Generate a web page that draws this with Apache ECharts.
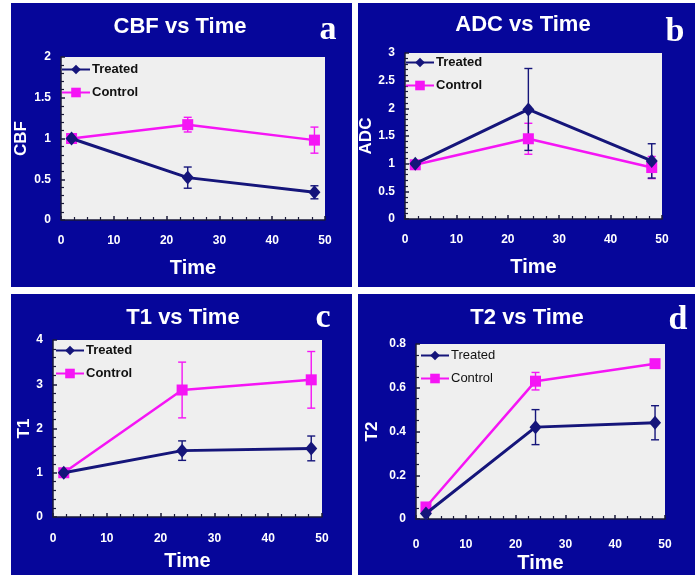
<!DOCTYPE html>
<html><head><meta charset="utf-8">
<script src="https://cdn.jsdelivr.net/npm/echarts@6/dist/echarts.min.js"></script>
<style>html,body{margin:0;padding:0;background:#fff}#c{width:699px;height:575px}</style>
</head><body><div id="c"></div>
<script>
// ---- data ----
const times = [2, 24, 48];
const xTicks = [0, 10, 20, 30, 40, 50];
const seriesNames = ['Treated', 'Control'];

const cbfTreated = [1.0, 0.52, 0.34];
const cbfTreatedErr = [0, 0.13, 0.08];
const cbfControl = [1.0, 1.17, 0.98];
const cbfControlErr = [0.04, 0.09, 0.16];

const adcTreated = [1.0, 1.98, 1.05];
const adcTreatedErr = [0, 0.74, 0.31];
const adcControl = [0.98, 1.45, 0.93];
const adcControlErr = [0.05, 0.28, 0.2];

const t1Treated = [1.0, 1.5, 1.55];
const t1TreatedErr = [0, 0.22, 0.28];
const t1Control = [1.0, 2.87, 3.1];
const t1ControlErr = [0, 0.63, 0.64];

const t2Treated = [0.025, 0.42, 0.44];
const t2TreatedErr = [0, 0.08, 0.078];
const t2Control = [0.055, 0.63, 0.71];
const t2ControlErr = [0, 0.04, 0.01];

const panelTitles = ['CBF vs Time', 'ADC vs Time', 'T1 vs Time', 'T2 vs Time'];
const panelLetters = ['a', 'b', 'c', 'd'];
const yNames = ['CBF', 'ADC', 'T1', 'T2'];
const yRanges = [[0, 2, 0.5, 5], [0, 3, 0.5, 5], [0, 4, 1, 5], [0, 0.8, 0.2, 4]];

// ---- layout ----
const BLUE = '#06069a';
const NAVY = '#15157a';
const MAG = '#f515f5';
const panels = [
  {x: 11, y: 3, w: 341, h: 284},
  {x: 358, y: 3, w: 337, h: 284},
  {x: 11, y: 294, w: 341, h: 281},
  {x: 358, y: 294, w: 337, h: 281}
];
const grids = [
  {left: 61, top: 57, width: 264, height: 163},
  {left: 405, top: 53, width: 257, height: 166},
  {left: 53, top: 340, width: 269, height: 177},
  {left: 416, top: 344, width: 249, height: 175}
];
const titlePos = [[180, 27], [523, 25], [183, 318], [527, 318]];
const letterPos = [[328, 30], [675, 32], [323, 318], [678, 320]];
const xLabelMargin = [15, 15, 16, 20];
const xNameGap = [38, 38, 34, 34];
const yNameGap = [31, 21, 19, 35];
const legendPos = [[61, 63], [405, 56], [55, 344], [420, 349]];
const legendBold = ['bold', 'bold', 'bold', 'normal'];

const panelData = [
  [cbfTreated, cbfTreatedErr, cbfControl, cbfControlErr],
  [adcTreated, adcTreatedErr, adcControl, adcControlErr],
  [t1Treated, t1TreatedErr, t1Control, t1ControlErr],
  [t2Treated, t2TreatedErr, t2Control, t2ControlErr]
];

function errRender(params, api) {
  const x = api.value(0), lo = api.value(1), hi = api.value(2);
  if (hi - lo <= 0) return null;
  const top = api.coord([x, hi]), bot = api.coord([x, lo]);
  const hw = 4;
  const style = {stroke: api.visual('color'), lineWidth: 1.4};
  return {type: 'group', children: [
    {type: 'line', shape: {x1: top[0], y1: top[1], x2: bot[0], y2: bot[1]}, style: style},
    {type: 'line', shape: {x1: top[0] - hw, y1: top[1], x2: top[0] + hw, y2: top[1]}, style: style},
    {type: 'line', shape: {x1: bot[0] - hw, y1: bot[1], x2: bot[0] + hw, y2: bot[1]}, style: style}
  ]};
}

const graphic = [];
panels.forEach((p, i) => {
  graphic.push({type: 'rect', shape: {x: p.x, y: p.y, width: p.w, height: p.h}, style: {fill: BLUE}, z: -10});
  graphic.push({type: 'text', x: titlePos[i][0], y: titlePos[i][1],
    style: {text: panelTitles[i], fill: '#fff', font: 'bold 22px "Liberation Sans", Arial, sans-serif',
      textAlign: 'center', textVerticalAlign: 'middle'}});
  graphic.push({type: 'text', x: letterPos[i][0], y: letterPos[i][1],
    style: {text: panelLetters[i], fill: '#fff', font: 'bold 34px "Liberation Serif", "Times New Roman", serif',
      textAlign: 'center', textVerticalAlign: 'middle'}});
});

const axisLineStyle = {color: '#1a1a3a', width: 1.5};
const grid = grids.map(g => Object.assign({show: true, backgroundColor: '#efefef', borderWidth: 0}, g));
const xAxis = grids.map((g, i) => ({
  type: 'value', gridIndex: i, min: xTicks[0], max: xTicks[xTicks.length - 1], interval: 10,
  name: 'Time', nameLocation: 'middle', nameGap: xNameGap[i],
  nameTextStyle: {color: '#fff', fontSize: 20, fontWeight: 'bold', fontFamily: 'Liberation Sans'},
  axisLine: {show: true, lineStyle: axisLineStyle},
  axisTick: {show: true, inside: true, length: 4, lineStyle: axisLineStyle},
  minorTick: {show: true, splitNumber: 4, length: 3, lineStyle: {color: '#1a1a3a', width: 1.2}},
  axisLabel: {color: '#fff', fontSize: 12, fontWeight: 'bold', fontFamily: 'Liberation Sans', margin: xLabelMargin[i]},
  splitLine: {show: false}
}));
const yAxis = grids.map((g, i) => ({
  type: 'value', gridIndex: i, min: yRanges[i][0], max: yRanges[i][1], interval: yRanges[i][2],
  name: yNames[i], nameLocation: 'middle', nameGap: yNameGap[i], nameRotate: 90,
  nameTextStyle: {color: '#fff', fontSize: 17, fontWeight: 'bold', fontFamily: 'Liberation Sans'},
  axisLine: {show: true, lineStyle: axisLineStyle},
  axisTick: {show: true, inside: true, length: 4, lineStyle: axisLineStyle},
  minorTick: {show: true, splitNumber: yRanges[i][3], length: 3, lineStyle: {color: '#1a1a3a', width: 1.2}},
  axisLabel: {color: '#fff', fontSize: 12, fontWeight: 'bold', fontFamily: 'Liberation Sans', margin: 10},
  splitLine: {show: false}
}));

const series = [];
panelData.forEach((d, i) => {
  const [tr, trE, co, coE] = d;
  series.push({type: 'custom', name: 'Control error', xAxisIndex: i, yAxisIndex: i, renderItem: errRender,
    itemStyle: {color: MAG}, z: 2, silent: true,
    data: times.map((t, k) => [t, co[k] - coE[k], co[k] + coE[k]])});
  series.push({type: 'custom', name: 'Treated error', xAxisIndex: i, yAxisIndex: i, renderItem: errRender,
    itemStyle: {color: NAVY}, z: 2, silent: true,
    data: times.map((t, k) => [t, tr[k] - trE[k], tr[k] + trE[k]])});
  series.push({type: 'line', name: 'Treated', xAxisIndex: i, yAxisIndex: i, symbol: 'diamond', symbolSize: [12, 14],
    lineStyle: {color: NAVY, width: 3}, itemStyle: {color: NAVY}, z: 4, animation: false,
    data: times.map((t, k) => [t, tr[k]])});
  series.push({type: 'line', name: 'Control', xAxisIndex: i, yAxisIndex: i, symbol: 'rect', symbolSize: 11,
    lineStyle: {color: MAG, width: 2.5}, itemStyle: {color: MAG}, z: 3, animation: false,
    data: times.map((t, k) => [t, co[k]])});
});

const legend = legendPos.map((p, i) => ({
  data: seriesNames, orient: 'vertical', left: p[0], top: p[1], padding: 0,
  itemWidth: 28, itemHeight: 12, itemGap: 10, selectedMode: false,
  textStyle: {color: '#111', fontSize: 13, fontWeight: legendBold[i], fontFamily: 'Liberation Sans', padding: [0, 0, 0, -3]}
}));

const chart = echarts.init(document.getElementById('c'), null, {renderer: 'canvas'});
chart.setOption({animation: false, backgroundColor: '#fff', graphic, grid, xAxis, yAxis, series, legend});
</script></body></html>
